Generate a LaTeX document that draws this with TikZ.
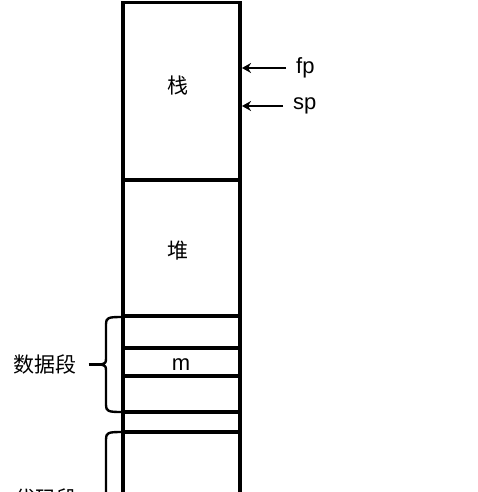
\documentclass[tikz,border=0pt]{standalone}
\usepackage{fontspec}
\setmainfont{Liberation Sans}
\newfontfamily\cjk{Noto Sans CJK SC}
\usetikzlibrary{arrows.meta}
\begin{document}
\begin{tikzpicture}[
  x=1pt, y=-1pt,
  font=\fontsize{21}{24}\selectfont,
  wall/.style={line width=3.2pt},
  brace/.style={line width=2.4pt, line join=round},
  ptr/.style={-{Stealth[length=9pt,width=10pt]}, line width=2.6pt},
  lbl/.style={inner sep=0pt},
  latin/.style={lbl,font=\fontsize{22}{24}\selectfont},
]

% ---- parameters ----
\def\xl{123}     % left wall of the memory column
\def\xr{240}     % right wall
\def\ytop{2.5}
\def\ybot{520}   % runs off the page

\useasboundingbox (0,0) rectangle (477,492);

% ========================= memory column =========================
\draw[wall] (\xl,\ybot) -- (\xl,\ytop) -- (\xr,\ytop) -- (\xr,\ybot);
\foreach \y in {180,316,348,376,412,432}{%
  \draw[wall] (\xl,\y) -- (\xr,\y);%
}

\node[lbl] (stack) at (178,86) {\cjk 栈};
\node[lbl] (heap)  at (178,251) {\cjk 堆};
\node[latin] (m)   at (181,364.5) {m};

% ========================= pointers =========================
\coordinate (edge) at (\xr+2,0);
\node[latin,anchor=west] (fp) at (296,68) {fp};
\node[latin,anchor=west] (sp) at (293,106) {sp};
\draw[ptr,shorten <=10pt] (fp.west) -- (fp.west -| edge);
\draw[ptr,shorten <=10pt] (sp.west) -- (sp.west -| edge);

% ========================= segments =========================
\node[lbl] (data) at (45,364) {\cjk 数据段};
\coordinate (datatip) at (101,364.5);
\draw[brace] (121,317) .. controls (108,317) and (106,318) .. (106,324)
  -- (106,357) .. controls (106,363) .. (datatip)
  .. controls (106,366) .. (106,372)
  -- (106,405) .. controls (106,411) and (108,412) .. (121,412);
\draw[wall] ([xshift=12pt]data.east |- datatip) -- (datatip);

\node[lbl] (code) at (46,498) {\cjk 代码段};
\draw[brace] (121,432) .. controls (108,432) and (106,433) .. (106,439)
  -- (106,\ybot);

\end{tikzpicture}
\end{document}
